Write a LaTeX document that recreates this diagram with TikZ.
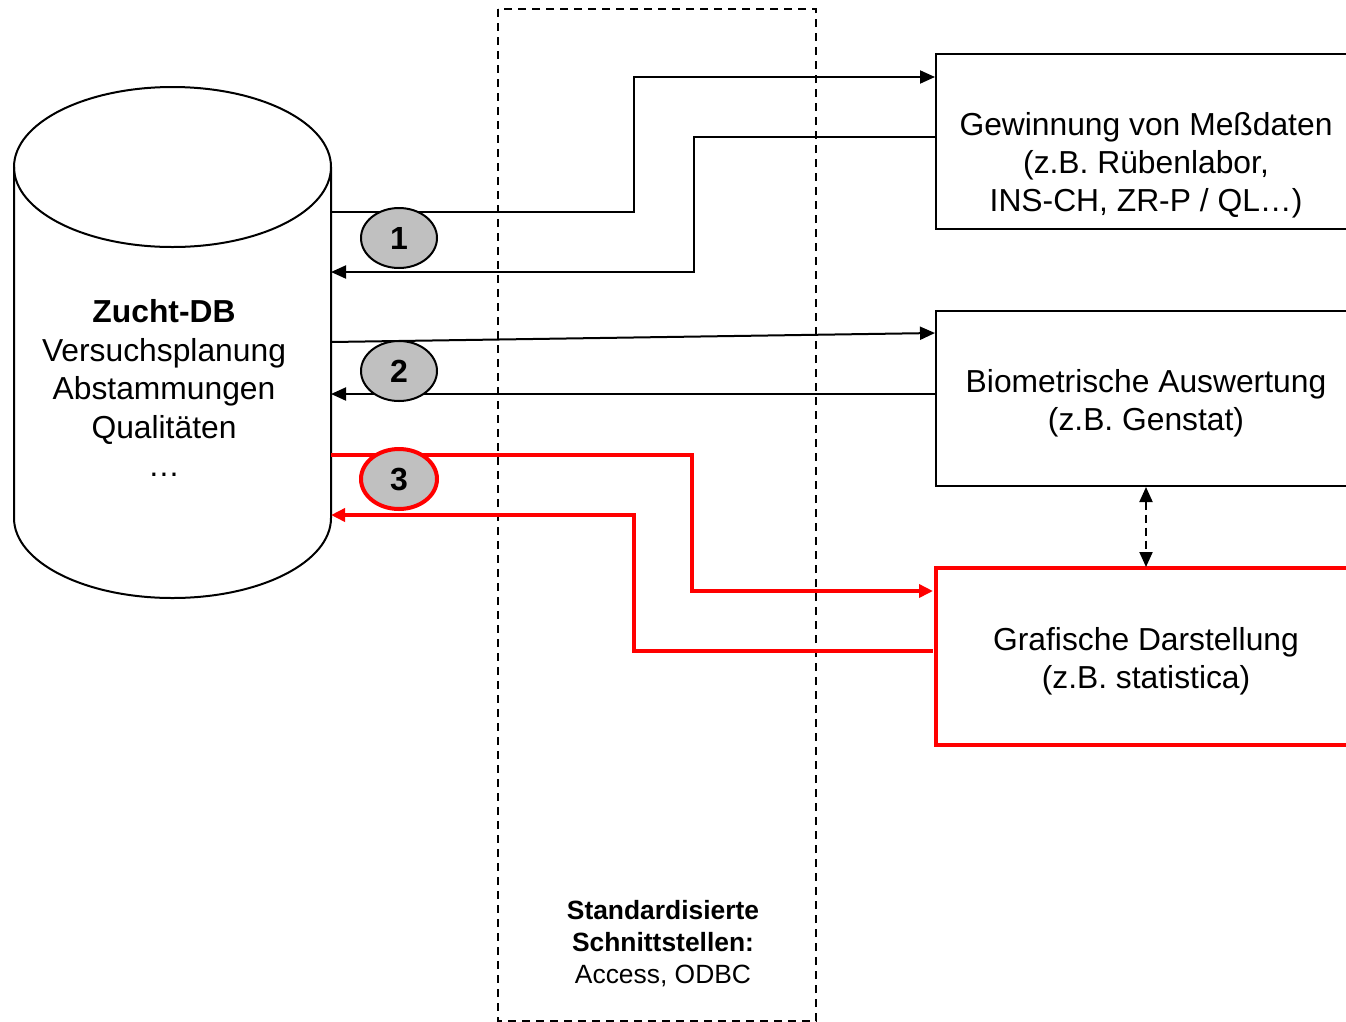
\documentclass[tikz,border=0pt]{standalone}
\usepackage{fontspec}
\setmainfont{Liberation Sans}
\usetikzlibrary{arrows.meta,shapes.geometric}
\definecolor{hotred}{RGB}{255,0,0}
\definecolor{badge}{RGB}{192,192,192}
\begin{document}
\begin{tikzpicture}[x=1pt,y=-1pt,
  conn/.style={line width=2pt,-{Triangle[length=15pt,width=13pt]}},
  redconn/.style={line width=4pt,draw=hotred,-{Triangle[length=14pt,width=13pt]},color=hotred},
  toolbox/.style={draw,line width=2pt,minimum width=420pt,minimum height=175pt,inner sep=0pt},
  tooltext/.style={align=center,font=\fontsize{31.8}{38}\selectfont},
  badgenode/.style={ellipse,draw,line width=2pt,fill=badge,minimum width=76pt,minimum height=60pt,
    inner sep=0pt,font=\fontsize{32}{38}\selectfont\bfseries},
  dbtext/.style={align=center,font=\fontsize{31.8}{38.5}\selectfont}]
\useasboundingbox (0,0) rectangle (1346,1021);
\clip (0,0) rectangle (1346,1021);

% interface column
\draw[line width=2pt,dash pattern=on 8pt off 6pt] (498,9) rectangle (816,1021);
\node[align=center,font=\fontsize{26.4}{32}\selectfont] (iface) at (663,944)
  {\textbf{Standardisierte}\\\textbf{Schnittstellen:}\\Access, ODBC};

% database cylinder
\draw[line width=2pt,fill=white] (14,167) -- (14,518) arc[start angle=180,end angle=360,x radius=158.5pt,y radius=80pt]
  -- (331,167);
\draw[line width=2pt] (172.5,167) ellipse[x radius=158.5pt,y radius=80pt];
\node[dbtext] (db) at (164,388)
  {\textbf{Zucht-DB}\\Versuchsplanung\\Abstammungen\\Qualitäten\\…};

\coordinate (o1) at (331,212);
\coordinate (i1) at (331,272);
\coordinate (o2) at (331,342);
\coordinate (i2) at (331,394);
\coordinate (o3) at (331,455);
\coordinate (i3) at (331,515);

% external tools
\node[toolbox] (mess) at (1146,141.5) {};
\node[tooltext] (messtxt) at (1146,165.5)
  {Gewinnung von Meßdaten\\(z.B. Rübenlabor,\\INS-CH, ZR-P / QL…)};
\node[toolbox] (bio) at (1146,398.5) {};
\node[tooltext] (biotxt) at (1146,403.5)
  {Biometrische Auswertung\\(z.B. Genstat)};
\node[toolbox,draw=hotred,line width=4pt,minimum height=177pt] (graf) at (1146,656.5) {};
\node[tooltext] (graftxt) at (1146,661)
  {Grafische Darstellung\\(z.B. statistica)};

% exchange 1
\draw[conn] (o1) -- (634,212) -- (634,77) -- (mess.west |- 0,77);
\draw[conn] (mess.west |- 0,137) -- (694,137) -- (694,272) -- (i1);
% exchange 2
\draw[conn] (o2) -- (mess.west |- 0,333);
\draw[conn] (bio.west |- 0,394) -- (i2);
% exchange 3
\draw[redconn] (o3) -- (692,455) -- (692,591) -- ([xshift=-1pt]graf.west |- 0,591);
\draw[redconn] ([xshift=-1pt]graf.west |- 0,651) -- (634,651) -- (634,515) -- (i3);

% link between analysis and graphics
\draw[line width=2pt,dash pattern=on 8pt off 5pt,{Triangle[length=15pt,width=13pt]}-{Triangle[length=15pt,width=13pt]}]
  (bio.south) -- ([yshift=-1pt]graf.north);

% numbered badges
\node[badgenode] (b1) at (399,238) {1};
\node[badgenode] (b2) at (399,371) {2};
\node[badgenode,draw=hotred,line width=4pt] (b3) at (399,479) {3};
\end{tikzpicture}
\end{document}
